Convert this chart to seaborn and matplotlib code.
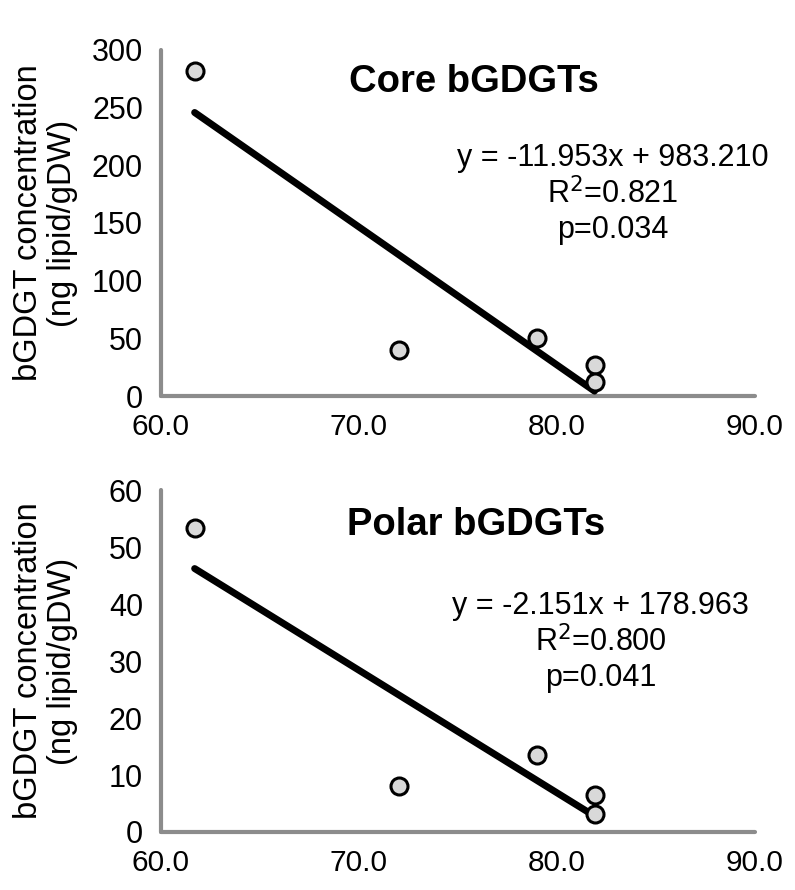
import numpy as np
import pandas as pd
import matplotlib
matplotlib.use("Agg")
import matplotlib.pyplot as plt
import seaborn as sns

sns.set_theme(style="white")
plt.rcParams['font.family'] = ['Liberation Sans', 'DejaVu Sans']
plt.rcParams['text.color'] = 'black'

# Data
core_x = [61.7, 72.0, 79.0, 81.9, 81.9]
core_y = [282, 40, 50, 27, 12]
polar_x = [61.7, 72.0, 79.0, 81.9, 81.9]
polar_y = [53.3, 8.0, 13.6, 6.5, 3.2]

core_fit = (-11.953, 983.210)
polar_fit = (-2.151, 178.963)

titles = ["Core bGDGTs", "Polar bGDGTs"]
eq_texts = ["y = -11.953x + 983.210\nR$^{2}$=0.821\np=0.034",
            "y = -2.151x + 178.963\nR$^{2}$=0.800\np=0.041"]
x_ticks = [60, 70, 80, 90]
core_yticks = [0, 50, 100, 150, 200, 250, 300]
polar_yticks = [0, 10, 20, 30, 40, 50, 60]
ylabel = "bGDGT concentration\n(ng lipid/gDW)"

fig = plt.figure(figsize=(7.95, 8.90), dpi=100)
ax1 = fig.add_axes([0.2025, 0.555, 0.747, 0.389])
ax2 = fig.add_axes([0.2025, 0.0652, 0.747, 0.384])

spine_col = "#8c8c8c"
panels = [
    (ax1, core_x, core_y, core_fit, core_yticks, titles[0], eq_texts[0], (75.8, 272), (82.8, 175)),
    (ax2, polar_x, polar_y, polar_fit, polar_yticks, titles[1], eq_texts[1], (75.9, 53.9), (82.2, 33.3)),
]

for ax, xs, ys, fit, yt, title, eq, tpos, epos in panels:
    df = pd.DataFrame({"x": xs, "y": ys})
    xr = np.array([min(xs), max(xs)])
    line_df = pd.DataFrame({"x": xr, "y": fit[0] * xr + fit[1]})
    sns.lineplot(data=line_df, x="x", y="y", ax=ax, color="black", linewidth=5, zorder=3)
    sns.scatterplot(data=df, x="x", y="y", ax=ax, s=150, color="#d9d9d9",
                    edgecolor="black", linewidth=2.2, zorder=4, clip_on=False)
    ax.set_xlim(60, 90)
    ax.set_ylim(yt[0], yt[-1])
    ax.set_xticks(x_ticks)
    ax.set_xticklabels([f"{v:.1f}" for v in x_ticks])
    ax.set_yticks(yt)
    ax.set_xlabel("")
    ax.set_ylabel(ylabel, fontsize=23.5, color="black", linespacing=1.1)
    ax.yaxis.set_label_coords(-0.14, 0.5)
    for s in ["top", "right"]:
        ax.spines[s].set_visible(False)
    for s in ["left", "bottom"]:
        ax.spines[s].set_color(spine_col)
        ax.spines[s].set_linewidth(3)
        ax.spines[s].set_capstyle("round")
    ax.tick_params(axis="both", which="major", direction="out", length=7, width=3,
                   color=spine_col, labelcolor="black")
    ax.tick_params(axis="x", labelsize=21.5, pad=5)
    ax.tick_params(axis="y", labelsize=22, pad=6)
    ax.text(tpos[0], tpos[1], title, ha="center", va="center", fontsize=27.5,
            fontweight="bold", color="black")
    ax.text(epos[0], epos[1], eq, ha="center", va="center", fontsize=22,
            linespacing=1.2, color="black")

fig.savefig("out.png", dpi=100)
